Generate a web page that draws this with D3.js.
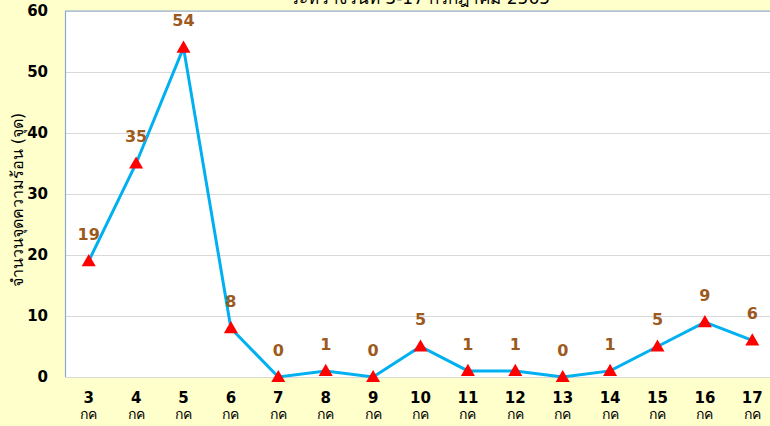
<!DOCTYPE html>
<html>
<head>
<meta charset="utf-8">
<script src="https://cdn.jsdelivr.net/npm/d3@7"></script>
<style>
  body { margin: 0; background: #FFFFCC; overflow: hidden; }
  text { font-family: "DejaVu Sans", "Noto Sans", sans-serif; }
</style>
</head>
<body>
<div id="svgcontainer"></div>
<script>
var days = ["3", "4", "5", "6", "7", "8", "9", "10", "11", "12", "13", "14", "15", "16", "17"];
var hotspots = [19, 35, 54, 8, 0, 1, 0, 5, 1, 1, 0, 1, 5, 9, 6];
var yTicks = [0, 10, 20, 30, 40, 50, 60];
var monthLabel = "กค";
var titleText = "ระหว่างวันที่ 3-17 กรกฎาคม 2565";
var yLabel = "จำนวนจุดความร้อน (จุด)";

var margin = {top: 11, right: -6, bottom: 49, left: 65},
    width = 770 - margin.left - margin.right,
    height = 426 - margin.top - margin.bottom,
    svg = d3.select("div#svgcontainer")
            .append("svg")
            .attr("width", 770)
            .attr("height", 426),
    g = svg.append("g")
           .attr("transform", "translate(" + margin.left + "," + margin.top + ")");

var x = d3.scaleBand().domain(days).range([0, width]);
var y = d3.scaleLinear().domain([0, 60]).range([height, 0]);

// plot area
g.append("rect")
  .attr("width", width)
  .attr("height", height)
  .style("fill", "#fff");

g.selectAll(".grid")
  .data(yTicks)
  .enter().append("line")
  .attr("x1", 0).attr("x2", width)
  .attr("y1", function(d){ return y(d) + 0.5 })
  .attr("y2", function(d){ return y(d) + 0.5 })
  .style("stroke", "#D9D9D9")
  .style("stroke-width", 1);

// borders
g.append("line").attr("x1", 0.5).attr("x2", 0.5).attr("y1", 0).attr("y2", height)
  .style("stroke", "#8EA9CF").style("stroke-width", 1.2);
g.append("line").attr("x1", 0).attr("x2", width).attr("y1", 0).attr("y2", 0)
  .style("stroke", "#8EA9CF").style("stroke-width", 1.2);

// y ticks
g.selectAll(".ytick")
  .data(yTicks)
  .enter().append("text")
  .attr("x", -17)
  .attr("y", function(d){ return y(d) })
  .attr("dy", "0.35em")
  .attr("text-anchor", "end")
  .style("font-size", "15px")
  .style("font-weight", "bold")
  .style("fill", "#000")
  .text(function(d){ return d });

// x ticks
var xt = g.selectAll(".xtick")
  .data(days)
  .enter().append("g")
  .attr("transform", function(d){ return "translate(" + (x(d) + x.bandwidth()/2) + "," + height + ")" });
xt.append("text")
  .attr("y", 26)
  .attr("text-anchor", "middle")
  .style("font-size", "15px")
  .style("font-weight", "bold")
  .text(function(d){ return d });
xt.append("text")
  .attr("y", 42)
  .attr("text-anchor", "middle")
  .style("font-size", "14px")
  .text(monthLabel);

// line
var line = d3.line()
  .x(function(d, i){ return x(days[i]) + x.bandwidth()/2 })
  .y(function(d){ return y(d) });

g.append("path")
  .datum(hotspots)
  .attr("d", line)
  .style("fill", "none")
  .style("stroke", "#00B0F0")
  .style("stroke-width", 3);

var tri = d3.symbol().type(d3.symbolTriangle).size(85);
g.selectAll(".pt")
  .data(hotspots)
  .enter().append("path")
  .attr("d", tri)
  .attr("transform", function(d, i){ return "translate(" + (x(days[i]) + x.bandwidth()/2) + "," + (y(d) + 1) + ")" })
  .style("fill", "#FF0000");

g.selectAll(".lbl")
  .data(hotspots)
  .enter().append("text")
  .attr("x", function(d, i){ return x(days[i]) + x.bandwidth()/2 })
  .attr("y", function(d){ return y(d) - 27 })
  .attr("dy", "0.35em")
  .attr("text-anchor", "middle")
  .style("font-size", "16px")
  .style("font-weight", "bold")
  .style("fill", "#9C5A1E")
  .text(function(d){ return d });

// title, cut at top like the reference
svg.append("text")
  .attr("x", 420)
  .attr("y", 4)
  .attr("text-anchor", "middle")
  .style("font-size", "17px")
  .style("fill", "#000")
  .text(titleText);

svg.append("text")
  .attr("transform", "rotate(-90)")
  .attr("x", -200)
  .attr("y", 17)
  .attr("dy", "0.35em")
  .attr("text-anchor", "middle")
  .style("font-size", "16px")
  .style("fill", "#000")
  .text(yLabel);
</script>
</body>
</html>
